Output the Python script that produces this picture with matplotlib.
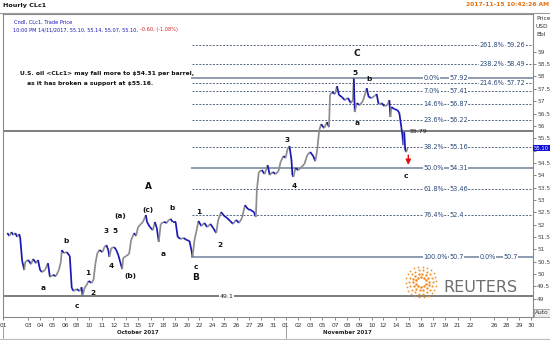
import numpy as np
import matplotlib
matplotlib.use("Agg")
import matplotlib.pyplot as plt
import matplotlib.transforms as mtransforms
from matplotlib.collections import LineCollection

plt.rcParams["font.family"] = ["Liberation Sans Narrow", "DejaVu Sans"]

W, H = 550, 340

# hourly CLc1, time in trading days from Mon 2 Oct 2017 00:00 (weekends removed)
t = [-0.69, -0.52, -0.36, -0.20, -0.04, 0.12, 0.28, 0.36, 0.52, 0.69,
     0.77, 1.01, 1.25, 1.41, 1.65, 1.81, 1.98, 2.14, 2.38, 2.62,
     2.78, 3.02, 3.27, 3.51, 3.67, 3.75, 3.91, 4.15, 4.40, 4.56,
     4.72, 4.96, 5.20, 5.36, 5.44, 5.60, 5.77, 5.93, 6.17, 6.33,
     6.49, 6.65, 6.81, 7.06, 7.22, 7.38, 7.54, 7.62, 7.78, 8.02,
     8.19, 8.35, 8.51, 8.67, 8.75, 8.99, 9.23, 9.40, 9.64, 9.80,
     9.96, 10.20, 10.36, 10.60, 10.69, 10.93, 11.17, 11.33, 11.49, 11.65,
     11.81, 12.06, 12.30, 12.46, 12.62, 12.78, 13.02, 13.19, 13.43, 13.67,
     13.91, 14.15, 14.31, 14.40, 14.56, 14.72, 14.88, 15.12, 15.36, 15.60,
     15.85, 16.09, 16.33, 16.49, 16.73, 16.98, 17.22, 17.46, 17.70, 17.94,
     18.19, 18.43, 18.67, 18.91, 19.15, 19.40, 19.56, 19.64, 19.80, 20.04,
     20.28, 20.52, 20.69, 20.93, 21.17, 21.41, 21.57, 21.81, 21.98, 22.14,
     22.30, 22.46, 22.54, 22.62, 22.78, 23.02, 23.27, 23.51, 23.75, 23.99,
     24.23, 24.40, 24.56, 24.72, 24.88, 25.12, 25.36, 25.52, 25.60, 25.77,
     26.01, 26.17, 26.33, 26.57, 26.81, 27.06, 27.30, 27.46, 27.54, 27.62,
     27.78, 28.02, 28.27, 28.51, 28.59, 28.75, 28.99, 29.23, 29.40, 29.56,
     29.80, 30.04, 30.28, 30.44, 30.52, 30.60, 30.85, 31.09, 31.25, 31.41,
     31.49, 31.57, 31.65, 31.73, 31.81, 31.92]
price = [51.66, 51.54, 51.70, 51.58, 51.66, 51.50, 51.62, 51.46, 50.53, 50.16,
         50.49, 50.57, 50.40, 50.61, 50.44, 50.57, 50.16, 50.08, 50.16, 50.44,
         49.88, 49.96, 49.92, 50.16, 50.49, 50.97, 50.85, 50.89, 50.73, 49.43,
         49.31, 49.39, 49.31, 49.47, 49.12, 49.43, 49.55, 49.72, 49.64, 49.76,
         50.44, 50.85, 50.97, 50.89, 51.09, 51.17, 50.97, 50.69, 51.05, 51.09,
         50.97, 50.77, 50.49, 50.20, 50.65, 50.73, 50.81, 51.38, 51.66, 51.54,
         51.90, 52.03, 52.11, 52.39, 52.11, 51.90, 51.78, 52.11, 51.86, 51.30,
         52.03, 52.11, 52.07, 52.19, 52.23, 52.11, 52.11, 51.50, 51.42, 51.46,
         51.38, 51.34, 50.97, 50.70, 51.38, 51.74, 52.15, 51.94, 52.07, 51.90,
         52.03, 51.86, 51.66, 52.19, 52.51, 52.35, 52.27, 52.15, 52.03, 52.19,
         52.07, 52.27, 52.79, 52.63, 52.59, 52.51, 52.31, 53.40, 54.13, 54.21,
         54.05, 54.41, 54.01, 54.13, 54.05, 54.17, 54.53, 54.78, 54.70, 55.06,
         55.18, 54.62, 54.01, 53.93, 54.29, 54.21, 54.33, 54.45, 54.82, 54.94,
         54.78, 54.57, 55.02, 55.83, 56.07, 55.91, 56.15, 55.95, 57.25, 57.37,
         57.29, 57.61, 57.25, 57.17, 57.04, 57.13, 56.92, 57.04, 57.92, 56.56,
         56.92, 56.84, 57.00, 57.37, 57.53, 57.17, 57.13, 57.21, 57.29, 56.88,
         56.92, 56.80, 56.84, 57.04, 56.36, 56.76, 56.68, 56.64, 56.52, 55.95,
         55.67, 55.22, 55.75, 55.02, 54.94, 55.10]

# fibonacci retracement / extension levels drawn from the 20 Oct low
fib_start = 14.35
retr_pct = ["0.0%", "7.0%", "14.6%", "23.6%", "38.2%", "50.0%", "61.8%", "76.4%", "100.0%"]
retr_val = [57.92, 57.41, 56.87, 56.22, 55.16, 54.31, 53.46, 52.4, 50.7]
retr_solid = [True, False, False, False, False, True, False, False, True]
ext_pct = ["261.8%", "238.2%", "214.6%"]
ext_val = [59.26, 58.49, 57.72]
support_vals = [55.79, 49.1]

# Elliott wave labels (time, price, text, big)
waves = [
    (27.78, 58.95, "C", True), (27.62, 58.14, "5", False), (28.75, 57.89, "b", False),
    (27.78, 56.11, "a", False), (22.14, 55.43, "3", False), (22.70, 53.56, "4", False),
    (14.88, 52.51, "1", False), (16.65, 51.17, "2", False), (14.64, 50.28, "c", False),
    (14.64, 49.86, "B", True), (10.77, 53.56, "A", True), (10.77, 52.59, "(c)", False),
    (12.70, 52.67, "b", False), (11.98, 50.81, "a", False), (8.51, 52.35, "(a)", False),
    (9.31, 49.92, "(b)", False), (7.38, 51.74, "3", False), (8.10, 51.74, "5", False),
    (7.78, 50.32, "4", False), (5.85, 50.04, "1", False), (6.25, 49.23, "2", False),
    (4.96, 48.70, "c", False), (4.07, 51.34, "b", False), (2.22, 49.43, "a", False),
    (31.81, 53.97, "c", False),
]
target = 54.31

oct_days = ["2017-10-01", "2017-10-03", "2017-10-04", "2017-10-05", "2017-10-06",
            "2017-10-08", "2017-10-10", "2017-10-11", "2017-10-12", "2017-10-13",
            "2017-10-15", "2017-10-17", "2017-10-18", "2017-10-19", "2017-10-20",
            "2017-10-22", "2017-10-24", "2017-10-25", "2017-10-26", "2017-10-27",
            "2017-10-29", "2017-10-31"]
nov_days = ["2017-11-01", "2017-11-02", "2017-11-03", "2017-11-05", "2017-11-07",
            "2017-11-08", "2017-11-09", "2017-11-10", "2017-11-12", "2017-11-14",
            "2017-11-15", "2017-11-16", "2017-11-17", "2017-11-19", "2017-11-21",
            "2017-11-22", "2017-11-26", "2017-11-28", "2017-11-29", "2017-11-30"]
holidays = ["2017-11-23"]


def trade_pos(day):
    d = np.datetime64(day)
    pos = float(np.busday_count("2017-10-02", d, holidays=holidays))
    if not np.is_busday(d, holidays=holidays):
        pos -= 1 / 24  # Sunday evening session opens an hour before Monday
    return pos


def fx(x):
    return x / W


def fy(y):
    return 1 - y / H


BLUE = "#1818b4"
GRAY = "#8c8c8c"
FIBC = "#2a4778"
LINEC = "#55657f"

fig = plt.figure(figsize=(W / 100, H / 100), dpi=100)
ax = fig.add_axes([fx(3), fy(317), fx(530), 303 / H])
ax.set_xlim(-0.6, 42.14)
ax.set_ylim(48.26, 60.53)

# price line, grey on up-moves and blue on down-moves
pts = np.column_stack([t, price])
segs = np.stack([pts[:-1], pts[1:]], axis=1)
seg_col = [GRAY if b > a else BLUE for a, b in zip(price[:-1], price[1:])]
ax.add_collection(LineCollection(segs, colors=seg_col, linewidths=1.25, zorder=4))

# horizontal supports across the whole chart
for v in support_vals:
    ax.axhline(v, color="#666666", lw=1.2, zorder=2)
ax.text(32.06, support_vals[0], f"{support_vals[0]:.2f}", fontsize=4.5, va="center",
        color="#202020", zorder=5)
ax.text(16.6, support_vals[1], f"{support_vals[1]}", fontsize=4.5, va="center",
        color="#202020", zorder=5, bbox=dict(fc="white", ec="none", pad=0.6))

x_end = ax.get_xlim()[1]
lbl_box = dict(fc="white", ec="none", pad=0.3)
FS_FIB = 4.7
for pct, v, solid in zip(retr_pct, retr_val, retr_solid):
    if solid:
        ax.plot([fib_start, x_end], [v, v], color="#8e9cb0", lw=1.4, zorder=2)
    else:
        ax.plot([fib_start, x_end], [v, v], color=LINEC, lw=0.7, ls=(0, (2, 1.5)), zorder=2)
    ax.text(33.19, v, pct, fontsize=FS_FIB, color=FIBC, va="center", zorder=5, bbox=lbl_box)
    ax.text(35.3, v, f"{v:g}", fontsize=FS_FIB, color=FIBC, va="center", zorder=5,
            bbox=lbl_box)

for pct, v in zip(ext_pct, ext_val):
    ax.plot([fib_start, x_end], [v, v], color=LINEC, lw=0.7, ls=(0, (2, 1.5)), zorder=2)
    ax.text(37.78, v, pct, fontsize=FS_FIB, color=FIBC, va="center", zorder=5, bbox=lbl_box)
    ax.text(40.0, v, f"{v:g}", fontsize=FS_FIB, color=FIBC, va="center", zorder=5,
            bbox=lbl_box)
ax.text(37.78, retr_val[-1], "0.0%", fontsize=FS_FIB, color=FIBC, va="center", zorder=5,
        bbox=lbl_box)
ax.text(39.7, retr_val[-1], f"{retr_val[-1]:g}", fontsize=FS_FIB, color=FIBC, va="center",
        zorder=5, bbox=lbl_box)

for xw, yw, s, big in waves:
    ax.text(xw, yw, s, fontsize=6.5 if big else 5.3, ha="center", va="center",
            color="#111111", fontweight="bold", zorder=6)

ax.annotate("", xy=(31.98, target), xytext=(31.98, 54.93),
            arrowprops=dict(arrowstyle="-|>,head_width=0.15,head_length=0.3",
                            color="#e01010", lw=1.0), zorder=6)

# axes styling
for side in ["left", "top", "bottom", "right"]:
    ax.spines[side].set_color("#8a8a8a")
    ax.spines[side].set_linewidth(0.8)
ax.yaxis.tick_right()
yt = np.arange(49, 59.01, 0.5)
ax.set_yticks(yt)
# the last-price marker sits over the 55 label
ax.set_yticklabels(["" if v == 55 else f"{v:g}" for v in yt])
ax.tick_params(axis="y", labelsize=4.2, length=2, width=0.5, pad=1, colors="#555555",
               labelcolor="#444444")
tick_days = oct_days + nov_days
ax.set_xticks([trade_pos(d) for d in tick_days])
ax.set_xticklabels([d[-2:] for d in tick_days])
ax.tick_params(axis="x", labelsize=4.2, length=2, width=0.5, pad=2, colors="#555555",
               labelcolor="#333333")

trans = mtransforms.blended_transform_factory(ax.transAxes, ax.transData)
ax.text(1.002, price[-1], f"{price[-1]:.2f}", transform=trans, fontsize=3.8, color="white",
        va="center", ha="left", zorder=7, clip_on=False,
        bbox=dict(fc="#1010d8", ec="none", pad=0.6))

# month captions below the day ticks
oct_mid = (trade_pos(oct_days[0]) + trade_pos(oct_days[-1])) / 2
nov_mid = (trade_pos(nov_days[0]) + trade_pos(nov_days[10])) / 2
tx = mtransforms.blended_transform_factory(ax.transData, fig.transFigure)
ax.text(oct_mid, fy(333), "October 2017", transform=tx, fontsize=4, fontweight="bold",
        ha="center", va="center", color="#222222", clip_on=False)
ax.text(nov_mid, fy(333), "November 2017", transform=tx, fontsize=4, fontweight="bold",
        ha="center", va="center", color="#222222", clip_on=False)
for d in [oct_days[0], nov_days[0]]:
    xp = trade_pos(d)
    ax.plot([xp, xp], [fy(327), fy(338)], transform=tx, color="#777777", lw=0.5,
            clip_on=False)
fig.add_artist(plt.Line2D([0, 1], [fy(338.5), fy(338.5)], color="#bbbbbb", lw=0.8))

# header texts
fig.text(fx(3), fy(5), "Hourly CLc1", fontsize=4.6, fontweight="bold", va="center",
         color="#111111")
fig.text(fx(549), fy(5), "2017-11-15 10:42:26 AM", fontsize=4.3, fontweight="bold",
         color="#e07010", ha="right", va="center")
fig.add_artist(plt.Line2D([0, 1], [fy(12.5), fy(12.5)], color="#9a9a9a", lw=0.8))
fig.text(fx(14), fy(22), "Cndl, CLc1, Trade Price", fontsize=3.7, color=BLUE, va="center")
info = fig.text(fx(13), fy(30), "10:00 PM 14/11/2017, 55.10, 55.14, 55.07, 55.10, ",
                fontsize=3.6, color=BLUE, va="center")
fig.canvas.draw()
bb = info.get_window_extent().transformed(fig.transFigure.inverted())
fig.text(bb.x1, fy(30), "-0.60, (-1.08%)", fontsize=3.6, color="#d02020", va="center")
for i, s in enumerate(["Price", "USD", "Bbl"]):
    fig.text(fx(536), fy(18 + 8.5 * i), s, fontsize=4.2, color="#333333", va="center")
fig.text(fx(535), fy(313), "Auto", fontsize=4.2, color="#333333", va="center",
         bbox=dict(fc="#eeeeee", ec="#888888", lw=0.5, pad=0.8))

fig.text(fx(20), fy(73), "U.S. oil <CLc1> may fall more to $54.31 per barrel,",
         fontsize=4.3, fontweight="bold", va="center", color="#111111")
fig.text(fx(25), fy(83.5), " as it has broken a support at $55.16.",
         fontsize=4.3, fontweight="bold", va="center", color="#111111")

# agency mark: dotted orange rings and wordmark
lax = fig.add_axes([fx(404), fy(299), fx(34), 34 / H])
lax.set_xlim(-1, 1)
lax.set_ylim(-1, 1)
lax.set_aspect("equal")
lax.axis("off")
for r, n, s in [(0.3, 10, 3.5), (0.5, 14, 3.0), (0.7, 18, 2.3), (0.9, 22, 1.6)]:
    ang = np.linspace(0, 2 * np.pi, n, endpoint=False) + r
    lax.scatter(r * np.cos(ang), r * np.sin(ang), s=s, color="#f0902a", lw=0)
fig.text(fx(443), fy(288), "REUTERS", fontsize=11.5, color="#6e6e6e", va="center")

fig.savefig("out.png", dpi=100)
